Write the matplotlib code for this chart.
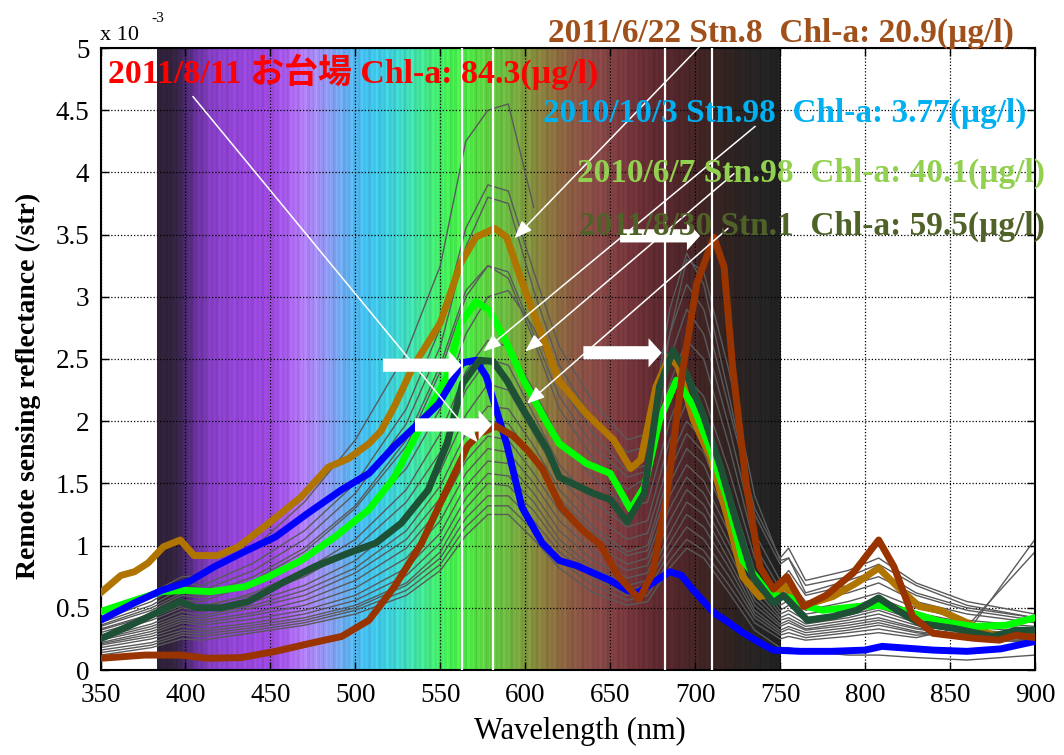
import numpy as np
import matplotlib
matplotlib.use("Agg")
import matplotlib.pyplot as plt
from matplotlib.patches import FancyArrowPatch
from matplotlib.ticker import FormatStrFormatter
from matplotlib.colors import to_rgb

plt.rcParams['font.family'] = ['Liberation Serif', 'Noto Sans CJK JP', 'DejaVu Sans']
plt.rcParams['font.weight'] = 'normal'

# ---------------- data (Rrs in units of 1e-3 /str) ----------------
wl_odaiba = [350, 376, 397, 413, 433, 453, 472, 492, 508, 523, 539, 551, 563, 566, 573, 583, 593, 601,
             610, 621, 634, 644, 655, 667, 675, 683, 693, 701, 711, 717, 722, 730, 738, 746, 754, 764,
             777, 793, 808, 817, 828, 840, 864, 879, 889, 900]
rrs_odaiba = [0.094, 0.12, 0.12, 0.094, 0.10, 0.15, 0.21, 0.27, 0.40, 0.67, 1.02, 1.37, 1.71, 1.80, 1.90,
              1.96, 1.88, 1.77, 1.62, 1.31, 1.12, 1.01, 0.75, 0.57, 0.78, 1.37, 2.44, 3.11, 3.48, 3.24,
              2.44, 1.50, 0.83, 0.65, 0.75, 0.51, 0.60, 0.78, 1.045, 0.83, 0.43, 0.295, 0.255, 0.24, 0.28, 0.26]

wl_stn8 = [350, 362, 370, 378, 387, 397, 405, 419, 431, 449, 468, 484, 496, 508, 515, 523, 534, 550, 562,
           571, 582, 589, 597, 607, 620, 636, 652, 662, 668, 677, 685, 690, 699, 709, 719, 728, 738, 748,
           753, 762, 781, 795, 808, 819, 832, 844, 860, 875, 890, 900]
rrs_stn8 = [0.62, 0.76, 0.79, 0.86, 0.99, 1.045, 0.92, 0.92, 0.99, 1.18, 1.39, 1.63, 1.70, 1.82, 1.92, 2.12,
            2.44, 2.79, 3.27, 3.48, 3.55, 3.48, 3.16, 2.79, 2.32, 2.06, 1.85, 1.62, 1.69, 2.28, 2.52, 2.44,
            2.01, 1.71, 1.23, 0.75, 0.59, 0.62, 0.67, 0.51, 0.59, 0.70, 0.82, 0.67, 0.51, 0.48, 0.38, 0.28,
            0.29, 0.30]

wl_stn98_oct = [350, 370, 386, 402, 417, 433, 453, 472, 492, 508, 523, 537, 549, 556, 563, 571, 577, 583,
                589, 598, 610, 620, 630, 640, 650, 660, 666, 675, 685, 692, 699, 711, 720, 728, 738, 746,
                762, 780, 800, 810, 820, 840, 860, 880, 900]
rrs_stn98_oct = [0.40, 0.54, 0.64, 0.71, 0.83, 0.94, 1.07, 1.26, 1.45, 1.58, 1.80, 1.98, 2.14, 2.30, 2.47,
                 2.49, 2.36, 2.09, 1.82, 1.31, 1.02, 0.88, 0.84, 0.78, 0.72, 0.64, 0.62, 0.70, 0.79, 0.76,
                 0.64, 0.46, 0.38, 0.30, 0.22, 0.16, 0.15, 0.15, 0.16, 0.19, 0.18, 0.16, 0.15, 0.17, 0.23]

wl_stn98_jun = [350, 370, 386, 400, 415, 435, 449, 468, 488, 508, 523, 538, 554, 562, 571, 579, 589, 599,
                613, 620, 636, 650, 662, 670, 679, 689, 699, 709, 719, 728, 742, 746, 756, 766, 775, 795,
                808, 825, 844, 864, 883, 900]
rrs_stn98_jun = [0.47, 0.56, 0.63, 0.64, 0.63, 0.67, 0.75, 0.88, 1.07, 1.29, 1.55, 1.95, 2.36, 2.79, 2.96,
                 2.89, 2.63, 2.33, 1.98, 1.82, 1.66, 1.58, 1.29, 1.47, 2.01, 2.33, 2.12, 1.77, 1.37, 0.88,
                 0.64, 0.60, 0.58, 0.51, 0.48, 0.51, 0.52, 0.47, 0.39, 0.35, 0.36, 0.42]

wl_stn1 = [350, 370, 386, 397, 406, 421, 437, 457, 476, 496, 512, 527, 543, 554, 563, 573, 581, 589, 599,
           613, 620, 640, 650, 660, 670, 679, 687, 695, 705, 715, 725, 734, 746, 752, 766, 781, 795, 808,
           819, 832, 852, 875, 889, 900]
rrs_stn1 = [0.25, 0.375, 0.48, 0.55, 0.50, 0.50, 0.55, 0.70, 0.83, 0.94, 1.02, 1.18, 1.45, 1.82, 2.30,
            2.49, 2.48, 2.33, 2.09, 1.77, 1.55, 1.42, 1.37, 1.19, 1.42, 2.28, 2.57, 2.38, 2.04, 1.63, 1.15,
            0.75, 0.54, 0.60, 0.40, 0.43, 0.48, 0.58, 0.48, 0.375, 0.335, 0.27, 0.32, 0.32]

wl_gray = [350, 380, 398, 410, 440, 470, 500, 530, 550, 565, 578, 590, 605, 620, 640, 660, 672, 685, 695,
           705, 720, 735, 750, 755, 765, 790, 808, 830, 860, 900]
nan = float('nan')
gray_spectra = [
    [0.48, 0.62, 0.75, 0.76, 0.98, 1.35, 1.85, 2.55, 3.25, 4.25, 4.50, 4.55, 3.72] + [nan] * 17,
    [0.40, 0.55, 0.70, 0.68, 0.86, 1.12, 1.50, 2.10, 2.75, 3.55, 3.90, 3.85, 3.20, 2.60, 2.15, 1.85, 1.90, 2.70, 3.10, 2.90, 2.10, 1.30, 0.90, 0.98, 0.72, 0.80, 0.90, 0.70, 0.55, 0.45],
    [0.38, 0.52, 0.66, 0.64, 0.80, 1.05, 1.42, 1.98, 2.60, 3.40, 3.80, 3.75, 3.05, 2.45, 2.00, 1.75, 1.80, 2.90, 3.35, 3.10, 2.20, 1.25, 0.85, 0.90, 0.68, 0.75, 0.85, 0.68, 0.52, 0.42],
    [0.35, 0.48, 0.60, 0.58, 0.72, 0.95, 1.30, 1.80, 2.40, 3.00, 3.25, 3.20, 2.70, 2.20, 1.80, 1.55, 1.60, 2.50, 2.90, 2.70, 1.95, 1.10, 0.72, 0.80, 0.60, 0.68, 0.75, 0.60, 0.48, 0.40],
    [0.33, 0.45, 0.56, 0.55, 0.70, 0.90, 1.20, 1.62, 2.10, 2.70, 3.00, 3.05, 2.75, 2.30, 1.90, 1.60, 1.65, 2.30, 2.65, 2.50, 1.80, 1.00, 0.65, 0.72, 0.55, 0.62, 0.70, 0.55, 0.45, 0.38],
    [0.36, 0.50, 0.62, 0.60, 0.75, 0.98, 1.32, 1.85, 2.45, 3.05, 3.25, 3.15, 2.65, 2.10, 1.70, 1.45, 1.55, 2.70, 3.30, 3.20, 2.40, 1.40, 0.88, 0.90, 0.62, 0.72, 0.80, 0.62, 0.50, 0.42],
    [0.30, 0.42, 0.52, 0.50, 0.62, 0.80, 1.05, 1.45, 1.90, 2.40, 2.65, 2.60, 2.25, 1.85, 1.55, 1.30, 1.35, 2.00, 2.35, 2.20, 1.60, 0.90, 0.58, 0.62, 0.48, 0.55, 0.62, 0.50, 0.40, 0.35],
    [0.32, 0.44, 0.55, 0.52, 0.60, 0.75, 0.98, 1.35, 1.75, 2.25, 2.50, 2.45, 2.05, 1.65, 1.35, 1.15, 1.20, 1.85, 2.15, 2.00, 1.45, 0.80, 0.52, 0.56, 0.45, 0.50, 0.58, 0.46, 0.38, 0.33],
    [0.28, 0.40, 0.50, 0.47, 0.55, 0.68, 0.88, 1.22, 1.60, 2.05, 2.30, 2.25, 1.90, 1.55, 1.25, 1.05, 1.10, 1.70, 2.00, 1.85, 1.35, 0.75, 0.48, 0.52, 0.42, 0.46, 0.52, 0.42, 0.35, 0.30],
    [0.26, 0.37, 0.47, 0.44, 0.52, 0.64, 0.82, 1.12, 1.48, 1.90, 2.12, 2.10, 1.80, 1.45, 1.15, 0.95, 1.00, 1.60, 1.90, 1.75, 1.25, 0.70, 0.45, 0.48, 0.40, 0.44, 0.50, 0.40, 0.33, 0.28],
    [0.25, 0.35, 0.44, 0.42, 0.50, 0.60, 0.78, 1.05, 1.38, 1.78, 2.00, 1.98, 1.70, 1.38, 1.10, 0.92, 0.96, 1.50, 1.78, 1.65, 1.18, 0.66, 0.42, 0.45, 0.37, 0.42, 0.48, 0.38, 0.32, 0.27],
    [0.24, 0.33, 0.42, 0.40, 0.46, 0.56, 0.72, 0.98, 1.30, 1.68, 1.88, 1.85, 1.58, 1.28, 1.02, 0.85, 0.90, 1.40, 1.65, 1.52, 1.10, 0.60, 0.40, 0.42, 0.35, 0.40, 0.45, 0.36, 0.30, 0.26],
    [0.22, 0.31, 0.40, 0.38, 0.44, 0.52, 0.66, 0.90, 1.20, 1.58, 1.78, 1.75, 1.50, 1.20, 0.95, 0.80, 0.84, 1.30, 1.55, 1.42, 1.02, 0.56, 0.37, 0.40, 0.33, 0.38, 0.42, 0.34, 0.28, 0.25],
    [0.21, 0.29, 0.38, 0.36, 0.41, 0.48, 0.60, 0.82, 1.10, 1.48, 1.68, 1.66, 1.42, 1.12, 0.88, 0.74, 0.78, 1.20, 1.45, 1.33, 0.95, 0.52, 0.35, 0.38, 0.32, 0.36, 0.40, 0.33, 0.27, 0.24],
    [0.20, 0.27, 0.35, 0.33, 0.38, 0.45, 0.56, 0.76, 1.02, 1.38, 1.58, 1.56, 1.35, 1.05, 0.82, 0.68, 0.72, 1.10, 1.35, 1.25, 0.88, 0.48, 0.32, 0.35, 0.30, 0.34, 0.38, 0.31, 0.26, 0.23],
    [0.18, 0.25, 0.32, 0.31, 0.36, 0.42, 0.52, 0.70, 0.95, 1.30, 1.50, 1.48, 1.28, 1.00, 0.78, 0.64, 0.68, 1.02, 1.25, 1.15, 0.82, 0.45, 0.30, 0.33, 0.28, 0.32, 0.36, 0.30, 0.25, 0.22],
    [0.16, 0.22, 0.30, 0.29, 0.34, 0.40, 0.50, 0.68, 0.90, 1.22, 1.40, 1.40, 1.20, 0.95, 0.74, 0.60, 0.64, 0.95, 1.15, 1.05, 0.75, 0.42, 0.28, 0.30, 0.26, 0.30, 0.33, 0.28, 0.30, 1.05],
    [0.14, 0.20, 0.28, 0.27, 0.32, 0.38, 0.48, 0.64, 0.85, 1.15, 1.32, 1.32, 1.12, 0.88, 0.68, 0.56, 0.60, 0.88, 1.05, 0.96, 0.68, 0.38, 0.25, 0.27, 0.24, 0.27, 0.30, 0.26, 0.35, 0.95],
    [0.12, 0.18, 0.25, 0.24, 0.30, 0.36, 0.45, 0.60, 0.80, 1.08, 1.25, 1.25, 1.05, 0.82, 0.62, 0.52, 0.55, 0.82, 0.98, 0.90, 0.62, 0.32, 0.18, 0.18, 0.15, 0.12, 0.12, 0.10, 0.08, 0.12],
]

xtick_values = [350, 400, 450, 500, 550, 600, 650, 700, 750, 800, 850, 900]
ytick_values = [0, 0.5, 1, 1.5, 2, 2.5, 3, 3.5, 4, 4.5, 5]
marker_wavelengths = [563, 581, 682, 710]

labels = [
    ("2011/8/11 お台場 Chl-a: 84.3(µg/l)", '#ff0000'),
    ("2011/6/22 Stn.8  Chl-a: 20.9(µg/l)", '#a0501a'),
    ("2010/10/3 Stn.98  Chl-a: 3.77(µg/l)", '#00b0f0'),
    ("2010/6/7 Stn.98  Chl-a: 40.1(µg/l)", '#92d050'),
    ("2011/8/30 Stn.1  Chl-a: 59.5(µg/l)", '#4f6228'),
]

# spectrum background colour stops (nm, colour)
spec_nm = [383, 393, 400, 406, 416, 430, 450, 460, 468, 478, 488, 498, 506, 516, 526, 536, 546, 556,
           566, 576, 588, 598, 608, 618, 630, 642, 655, 668, 682, 696, 710, 725, 740, 750]
spec_col = ['#2e2138', '#33233f', '#4b2a6e', '#6a32a0', '#8840c8', '#9445d8', '#9c4ae0', '#a860ec',
            '#b27cf4', '#a090f4', '#7ea4f0', '#58b4ee', '#44c0ee', '#40cce4', '#40d8cc', '#42e4a4',
            '#44ec74', '#44f050', '#4ce844', '#5ed442', '#6cbc40', '#7ea040', '#8a843e', '#8c6e40',
            '#8a5644', '#884a48', '#7c3c40', '#6a3036', '#58282e', '#4a2628', '#3a2422', '#2c2322',
            '#242424', '#202020']

# ---------------- figure ----------------
W, H = 1064, 755
fig = plt.figure(figsize=(W / 100, H / 100), dpi=100)
ax = fig.add_axes([100.5 / W, 1 - 670 / H, (1035 - 100.5) / W, (670 - 48) / H])

# background spectrum image
xs = np.arange(spec_nm[0], spec_nm[-1] + 0.5, 0.5)
rgb_stops = np.array([to_rgb(c) for c in spec_col])
img = np.stack([np.interp(xs, spec_nm, rgb_stops[:, k]) for k in range(3)], axis=-1)
stripe = 1 + 0.05 * np.sin(xs * 2.1) + 0.04 * np.sin(xs * 5.3 + 1.0) + 0.03 * np.sin(xs * 0.9)
img = np.clip(img * stripe[:, None], 0, 1)
img = np.repeat(img[None, :, :], 4, axis=0)
ax.imshow(img, extent=[spec_nm[0], spec_nm[-1], 0, 5], aspect='auto', zorder=0,
          interpolation='bilinear', origin='lower')

for g in gray_spectra:
    ax.plot(wl_gray, g, color='#5a5a5a', lw=1.0, zorder=2)

ax.plot(wl_stn8, rrs_stn8, color='#b07400', lw=5, zorder=3, solid_joinstyle='round')
ax.plot(wl_stn98_jun, rrs_stn98_jun, color='#00ff00', lw=5, zorder=4, solid_joinstyle='round')
ax.plot(wl_stn98_oct, rrs_stn98_oct, color='#0000ff', lw=5, zorder=5, solid_joinstyle='round')
ax.plot(wl_stn1, rrs_stn1, color='#1e5035', lw=5, zorder=6, solid_joinstyle='round')
ax.plot(wl_odaiba, rrs_odaiba, color='#993300', lw=5, zorder=7, solid_joinstyle='round')

for x in marker_wavelengths:
    ax.axvline(x, color='white', lw=1.6, zorder=8)

# thin annotation arrows (label -> curve)
thin = [((404.4, 4.61), (572.0, 1.83)),
        ((704.6, 5.04), (593.6, 3.47)),
        ((735.3, 4.37), (575.3, 2.56)),
        ((722.8, 3.99), (599.9, 2.56)),
        ((719.3, 3.55), (600.9, 2.14))]
for (x0, y0), (x1, y1) in thin:
    a = FancyArrowPatch((x0, y0), (x1, y1), arrowstyle='-|>,head_length=0.9,head_width=0.35',
                        mutation_scale=12, color='white', lw=1.1, zorder=9,
                        shrinkA=0, shrinkB=0, clip_on=False)
    ax.add_patch(a)

# thick white block arrows
blocks = [((516.3, 2.45), (562.6, 2.45)),
          ((535.1, 1.97), (580.3, 1.97)),
          ((634.2, 2.55), (680.3, 2.55)),
          ((655.8, 3.49), (702.9, 3.49))]
for (x0, y0), (x1, y1) in blocks:
    a = FancyArrowPatch((x0, y0), (x1, y1),
                        arrowstyle='simple,head_length=0.95,head_width=2.1,tail_width=0.95',
                        mutation_scale=10, fc='white', ec='none', zorder=10,
                        shrinkA=0, shrinkB=0)
    ax.add_patch(a)

ax.set_xlim(350, 900)
ax.set_ylim(0, 5)
ax.set_xticks(xtick_values)
ax.set_yticks(ytick_values)
ax.yaxis.set_major_formatter(FormatStrFormatter('%g'))
ax.grid(True, ls=(0, (1, 1.6)), color='black', lw=0.9)
ax.set_axisbelow('line')
ax.tick_params(direction='in', length=6, width=1, top=True, right=True, labelsize=19.5)
ax.tick_params(axis='x', pad=9)
ax.tick_params(axis='y', pad=8)
for s in ax.spines.values():
    s.set_linewidth(1.5)

# axis labels
fig.text(28 / W, 1 - 386 / H, 'Remote sensing reflectance (/str)', rotation=90, fontweight='bold',
         fontsize=20, ha='center', va='center')
fig.text(580 / W, 1 - 731 / H, 'Wavelength (nm)', fontsize=22, ha='center', va='center')
fig.text(100 / W, 1 - 40 / H, 'x 10', fontsize=16, va='baseline')
fig.text(151 / W, 1 - 22 / H, '-3', fontsize=11, va='baseline')

# coloured labels
pos = [(108, 83, 491), (548, 42, 466), (543, 122, 484), (577, 182, 468), (579, 235, 466)]
renderer = fig.canvas.get_renderer()
for (txt, col), (px, py, target) in zip(labels, pos):
    t = fig.text(px / W, 1 - py / H, txt, color=col, fontsize=23, fontweight='bold',
                 ha='left', va='baseline', zorder=20)
    wdt = t.get_window_extent(renderer).width
    t.set_fontsize(23 * target / wdt)

fig.savefig('out.png', dpi=100)
